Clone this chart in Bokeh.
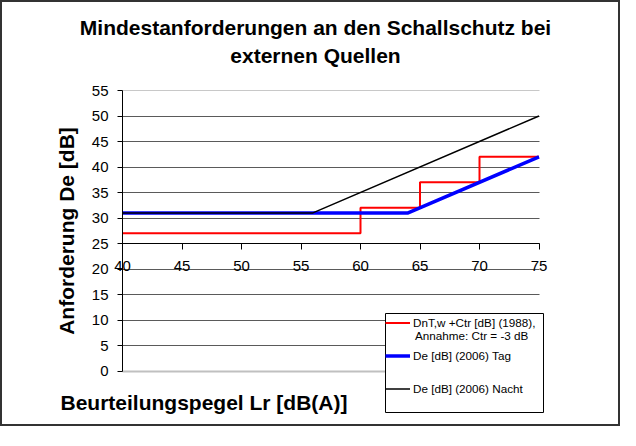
from bokeh.plotting import figure
from bokeh.models import (Range1d, FixedTicker, Grid, Legend, LegendItem, Label, BoxAnnotation)
from bokeh.embed import file_html
from bokeh.resources import INLINE

# ---- data ----
title_line1 = "Mindestanforderungen an den Schallschutz bei"
title_line2 = "externen Quellen"
x_title = "Beurteilungspegel Lr [dB(A)]"
y_title = "Anforderung De [dB]"

x_ticks = [40, 45, 50, 55, 60, 65, 70, 75]
y_ticks = [0, 5, 10, 15, 20, 25, 30, 35, 40, 45, 50, 55]

red_x = [40, 60, 65, 70, 75]
red_y = [27, 32, 37, 42, 42]
red_label_1 = "DnT,w +Ctr [dB] (1988),"
red_label_2 = "Annahme: Ctr = -3 dB"

blue_x = [40, 64, 75]
blue_y = [31, 31, 42]
blue_label = "De [dB] (2006) Tag"

black_x = [40, 56, 75]
black_y = [31, 31, 50]
black_label = "De [dB] (2006) Nacht"

# ---- layout (pixels) ----
FONT = "Liberation Sans"
W, H = 620, 426          # canvas size
OX, OY = 10, 10          # canvas origin on the page (8px margin + 2px border)
X_LO_PX, X_HI_PX = 130, 546.5   # page x of x-axis ends
Y_HI_PX, Y_LO_PX = 98, 378.5    # page y of y-axis ends
x_lo, x_hi = x_ticks[0], x_ticks[-1]
y_lo, y_hi = y_ticks[0], y_ticks[-1]
sx = (X_HI_PX - X_LO_PX) / (x_hi - x_lo)
sy = (Y_LO_PX - Y_HI_PX) / (y_hi - y_lo)
x_range = Range1d(x_lo - (X_LO_PX - OX) / sx, x_lo + (OX + W - X_LO_PX) / sx)
y_range = Range1d(y_lo - (OY + H - Y_LO_PX) / sy, y_lo + (Y_LO_PX - OY) / sy)


def sx_(page_x):
    return page_x - OX


def sy_(page_y):
    return H - (page_y - OY)


def dx_(page_x):   # page pixel -> x data (for layout boxes)
    return x_lo + (page_x - X_LO_PX) / sx


def dy_(page_y):   # page pixel -> y data (for layout boxes)
    return y_lo + (Y_LO_PX - page_y) / sy


p = figure(width=W, height=H, output_backend="svg", toolbar_location=None,
           x_range=x_range, y_range=y_range,
           min_border=0, min_border_left=0, min_border_right=0,
           min_border_top=0, min_border_bottom=0,
           styles={"border": "2px solid #333333"})
p.title = None
p.outline_line_color = None
p.background_fill_color = "white"
p.border_fill_color = "white"

BOLD_FS = "21px"
TICK_FS = "15px"

# axes
p.xaxis.ticker = FixedTicker(ticks=x_ticks)
p.xaxis.fixed_location = 25
p.xaxis.bounds = (x_lo, x_hi)
p.xaxis.axis_line_color = "black"
p.xaxis.axis_line_width = 1
p.xaxis.major_tick_out = 6
p.xaxis.major_tick_in = 0
p.xaxis.major_tick_line_color = "black"
p.xaxis.minor_tick_line_color = None
p.xaxis.major_label_standoff = 11
p.xaxis.major_label_text_font = FONT
p.xaxis.major_label_text_font_size = TICK_FS
p.xaxis.major_label_text_color = "black"

p.yaxis.ticker = FixedTicker(ticks=y_ticks)
p.yaxis.fixed_location = x_lo
p.yaxis.bounds = (y_lo, y_hi)
p.yaxis.axis_line_color = "black"
p.yaxis.major_tick_out = 5
p.yaxis.major_tick_in = 0
p.yaxis.major_tick_line_color = "black"
p.yaxis.minor_tick_line_color = None
p.yaxis.major_label_standoff = 9
p.yaxis.major_label_text_font = FONT
p.yaxis.major_label_text_font_size = TICK_FS
p.yaxis.major_label_text_color = "black"
p.yaxis.axis_label = y_title
p.yaxis.axis_label_text_font = FONT
p.yaxis.axis_label_text_font_size = BOLD_FS
p.yaxis.axis_label_text_font_style = "bold"
p.yaxis.axis_label_text_color = "black"
p.yaxis.axis_label_standoff = 11

# grids
p.xgrid.visible = False
p.ygrid.ticker = FixedTicker(ticks=y_ticks[1:-1])
p.ygrid.cross_bounds = (x_lo, x_hi)
p.ygrid.grid_line_color = "#5a5a5a"
p.ygrid.grid_line_width = 1
top_grid = Grid(dimension=1, ticker=FixedTicker(ticks=[y_hi]), cross_bounds=(x_lo, x_hi),
                grid_line_color="#c8c8c8", grid_line_width=1)
bottom_grid = Grid(dimension=1, ticker=FixedTicker(ticks=[y_lo]), cross_bounds=(x_lo, x_hi),
                   grid_line_color="#c0c0c0", grid_line_width=2)
p.add_layout(top_grid)
p.add_layout(bottom_grid)

# series
r_red = p.step(red_x, red_y, mode="after", line_color="#ff0000", line_width=2)
r_blue = p.line(blue_x, blue_y, line_color="#0000ff", line_width=3.5)
r_black = p.line(black_x, black_y, line_color="black", line_width=1.5)

# titles
for txt, py in ((title_line1, 35), (title_line2, 63)):
    p.add_layout(Label(x=sx_(323), y=sy_(py), x_units="screen", y_units="screen", text=txt,
                       text_font=FONT, text_font_size=BOLD_FS, text_font_style="bold",
                       text_color="black", text_align="center", text_baseline="middle"))

# legend frame (white box with black border)
legend_box = BoxAnnotation(left=dx_(393), right=dx_(551), top=dy_(321), bottom=dy_(420),
                           fill_color="white", fill_alpha=1,
                           line_color="black", line_width=1, line_alpha=1,
                           level="annotation")
p.add_layout(legend_box)

# legend
LEG_FS = "11.7px"
legend = Legend(items=[LegendItem(label=red_label_1, renderers=[r_red]),
                       LegendItem(label=blue_label, renderers=[r_blue]),
                       LegendItem(label=black_label, renderers=[r_black])],
                location=(sx_(393), sy_(403)), level="overlay")
legend.label_text_font = FONT
legend.label_text_font_size = LEG_FS
legend.label_text_color = "black"
legend.glyph_width = 25
legend.glyph_height = 13
legend.label_height = 13
legend.label_standoff = 3
legend.padding = 4
legend.spacing = 20
legend.margin = 0
legend.border_line_color = None
legend.background_fill_alpha = 0
p.add_layout(legend, "center")

p.add_layout(Label(x=sx_(422.5), y=sy_(343), x_units="screen", y_units="screen", text=red_label_2,
                   text_font=FONT, text_font_size=LEG_FS, text_color="black",
                   text_align="left", text_baseline="middle", level="overlay"))

# x axis title below the chart
p.add_layout(Label(x=sx_(68), y=sy_(410), x_units="screen", y_units="screen", text=x_title,
                   text_font=FONT, text_font_size=BOLD_FS, text_font_style="bold",
                   text_color="black", text_baseline="middle", text_align="left"))

open("out.html", "w").write(file_html(p, INLINE))
